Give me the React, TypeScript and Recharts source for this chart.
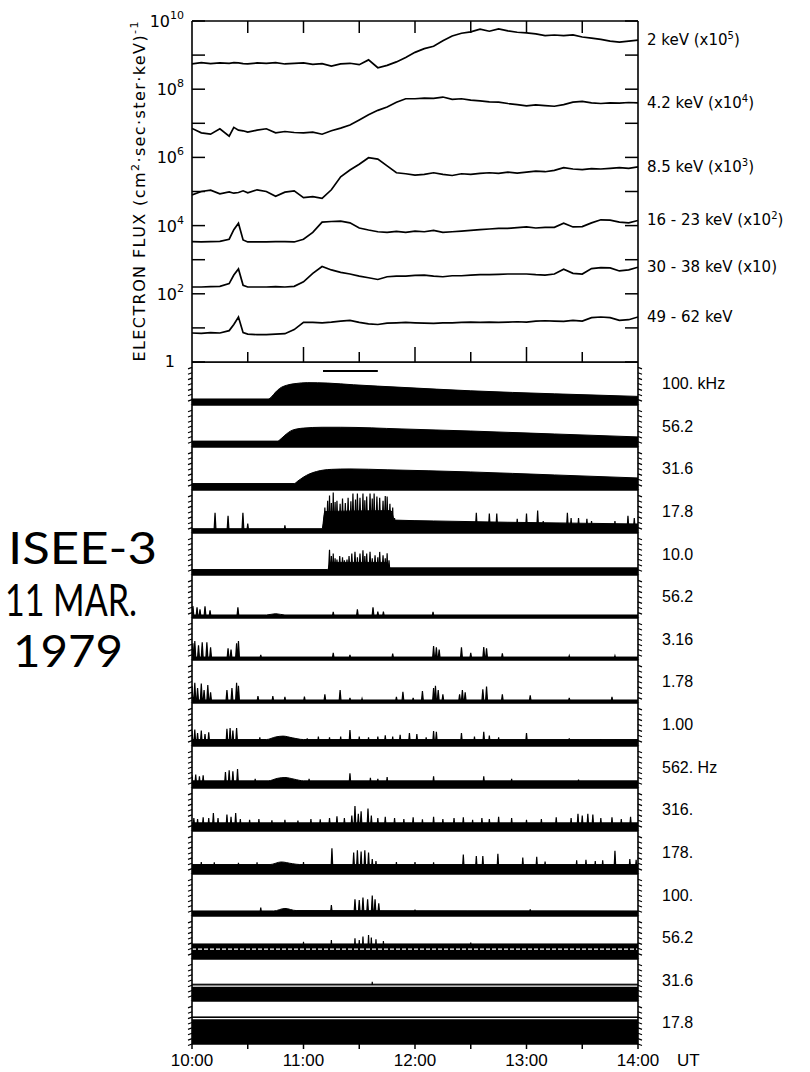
import React from 'react';
import { LineChart, Line, ComposedChart, Area, XAxis, YAxis, ReferenceLine, LabelList } from 'recharts';

// minutes after 10:00 UT
const times = [0, 5, 10, 15, 20, 22.5, 25, 27.5, 30, 35, 40, 45, 50, 55, 60, 65, 70, 75, 80, 85, 90, 95, 100, 105, 110, 115, 120, 125, 130, 135, 140, 145, 150, 155, 160, 165, 170, 175, 180, 185, 190, 195, 200, 205, 210, 215, 220, 225, 230, 235, 240];

// log10 of plotted electron flux (already multiplied by the band factor)
const flux2keV = [8.74, 8.78, 8.75, 8.77, 8.76, 8.78, 8.77, 8.75, 8.74, 8.77, 8.76, 8.78, 8.74, 8.76, 8.77, 8.73, 8.75, 8.68, 8.74, 8.76, 8.72, 8.86, 8.63, 8.70, 8.80, 8.93, 9.08, 9.19, 9.26, 9.42, 9.56, 9.64, 9.68, 9.76, 9.70, 9.77, 9.71, 9.67, 9.65, 9.62, 9.57, 9.59, 9.57, 9.59, 9.53, 9.50, 9.46, 9.41, 9.38, 9.41, 9.44];
const flux4keV = [6.85, 6.72, 6.68, 6.84, 6.62, 6.88, 6.80, 6.78, 6.74, 6.80, 6.84, 6.72, 6.76, 6.73, 6.72, 6.74, 6.68, 6.78, 6.86, 6.95, 7.10, 7.25, 7.38, 7.48, 7.62, 7.72, 7.72, 7.74, 7.73, 7.77, 7.70, 7.72, 7.68, 7.66, 7.63, 7.62, 7.58, 7.55, 7.51, 7.54, 7.52, 7.50, 7.55, 7.62, 7.64, 7.60, 7.58, 7.60, 7.59, 7.61, 7.60];
const flux8keV = [4.90, 5.00, 5.04, 4.93, 4.99, 4.95, 4.97, 5.02, 4.96, 5.05, 5.00, 4.86, 4.98, 5.02, 4.82, 4.85, 4.80, 5.05, 5.43, 5.63, 5.80, 5.99, 5.95, 5.75, 5.55, 5.52, 5.48, 5.50, 5.55, 5.50, 5.47, 5.52, 5.50, 5.53, 5.55, 5.53, 5.57, 5.54, 5.57, 5.60, 5.58, 5.62, 5.70, 5.66, 5.64, 5.67, 5.66, 5.68, 5.70, 5.68, 5.72];
const flux16keV = [3.53, 3.52, 3.53, 3.54, 3.60, 3.88, 4.07, 3.58, 3.52, 3.52, 3.52, 3.53, 3.53, 3.52, 3.60, 3.80, 4.10, 4.12, 4.13, 4.08, 3.93, 3.87, 3.82, 3.80, 3.83, 3.80, 3.84, 3.82, 3.86, 3.80, 3.82, 3.84, 3.86, 3.88, 3.90, 3.92, 3.92, 3.94, 3.96, 3.93, 3.95, 3.95, 4.07, 3.96, 3.97, 4.08, 4.17, 4.16, 4.10, 4.08, 4.15];
const flux30keV = [2.20, 2.20, 2.21, 2.22, 2.30, 2.55, 2.73, 2.25, 2.20, 2.20, 2.20, 2.21, 2.20, 2.22, 2.35, 2.60, 2.80, 2.70, 2.63, 2.58, 2.52, 2.47, 2.42, 2.50, 2.52, 2.52, 2.54, 2.55, 2.52, 2.50, 2.53, 2.53, 2.55, 2.56, 2.56, 2.57, 2.58, 2.58, 2.58, 2.56, 2.55, 2.58, 2.72, 2.60, 2.58, 2.74, 2.77, 2.76, 2.67, 2.70, 2.78];
const flux49keV = [0.85, 0.84, 0.86, 0.85, 0.92, 1.10, 1.32, 0.86, 0.82, 0.80, 0.80, 0.82, 0.83, 0.95, 1.16, 1.16, 1.15, 1.17, 1.20, 1.22, 1.16, 1.12, 1.10, 1.14, 1.15, 1.16, 1.15, 1.14, 1.13, 1.15, 1.15, 1.16, 1.17, 1.16, 1.17, 1.16, 1.17, 1.18, 1.17, 1.20, 1.21, 1.20, 1.19, 1.22, 1.20, 1.30, 1.32, 1.30, 1.22, 1.24, 1.32];

const bandNames = ['2 keV', '4.2 keV', '8.5 keV', '16 - 23 keV', '30 - 38 keV', '49 - 62 keV'];
const bandFactorExp = [5, 4, 3, 2, 1, 0];
const fluxTicks = [1, 1e1, 1e2, 1e3, 1e4, 1e5, 1e6, 1e7, 1e8, 1e9, 1e10];
const timeTicks = [0, 30, 60, 90, 120, 150, 180, 210, 240];
const hourLabels = ['10:00', '11:00', '12:00', '13:00', '14:00'];
const burstInterval = [70.5, 100];

const freqLabels = ['100. kHz', '56.2', '31.6', '17.8', '10.0', '56.2', '3.16', '1.78', '1.00', '562. Hz', '316.', '178.', '100.', '56.2', '31.6', '17.8'];

// receiver channels: envelope [t, level] and spikes [t, height], level 0..1 of strip height
const env100k = [[0, 0.14], [41, 0.14], [43, 0.2], [45, 0.3], [47, 0.38], [51, 0.46], [56, 0.5], [62, 0.52], [73, 0.51], [87, 0.47], [113, 0.41], [150, 0.33], [195, 0.26], [240, 0.2]];
const env56k = [[0, 0.14], [46, 0.14], [48, 0.2], [50, 0.28], [54, 0.4], [60, 0.45], [70, 0.47], [80, 0.47], [113, 0.43], [150, 0.38], [195, 0.31], [240, 0.24]];
const env31k = [[0, 0.15], [55, 0.15], [57, 0.21], [60, 0.3], [63, 0.37], [67, 0.43], [75, 0.48], [85, 0.49], [105, 0.47], [150, 0.42], [195, 0.35], [240, 0.28]];
const env17k = [[0, 0.1], [70, 0.1], [71.5, 0.5], [107, 0.52], [109, 0.3], [130, 0.28], [170, 0.25], [240, 0.21]];
const spikes17k = [[12.4, 0.47], [19.4, 0.4], [27.4, 0.47], [30, 0.22], [50, 0.18],
  [71.5, 0.59], [73, 0.75], [74, 0.87], [75, 0.7], [76, 0.94], [77, 0.72], [78, 0.75], [79.7, 0.68], [81, 0.8], [82.5, 0.7], [84, 0.82], [85.5, 0.74], [86.6, 0.92], [88, 0.78], [89, 0.92], [90.4, 0.82], [92, 0.92], [93, 0.76], [94, 0.85], [95.8, 0.92], [97, 0.8], [98, 0.92], [99.5, 0.85], [101, 0.82], [102.8, 0.75], [104, 0.86], [105, 0.85], [106.5, 0.68], [108, 0.59], [109, 0.35],
  [153, 0.47], [160, 0.45], [164, 0.45], [175, 0.33], [180, 0.45], [186, 0.52], [189, 0.28], [202, 0.47], [204, 0.35], [208, 0.35], [212.5, 0.33], [215, 0.28], [227.6, 0.28], [234.6, 0.4], [238, 0.35]];
const env10k = [[0, 0.13], [73, 0.13], [74.5, 0.3], [105, 0.3], [106.5, 0.17], [240, 0.17]];
const spikes10k = [[74, 0.6], [75, 0.45], [76, 0.51], [77, 0.4], [78, 0.37], [79.5, 0.45], [81, 0.42], [82, 0.35], [83.4, 0.37], [84.5, 0.45], [86, 0.51], [87.7, 0.55], [89, 0.42], [90.4, 0.51], [92, 0.59], [93, 0.45], [94, 0.51], [95.8, 0.55], [97, 0.4], [98.5, 0.47], [100, 0.42], [101, 0.55], [102.8, 0.47], [104, 0.4], [105, 0.52], [106, 0.35]];
const env5k = [[0, 0.07], [40, 0.07], [45, 0.1], [50, 0.07], [240, 0.07]];
const spikes5k = [[0.5, 0.28], [2.7, 0.25], [4.3, 0.2], [7, 0.27], [9.7, 0.18], [24.7, 0.25], [76, 0.14], [89, 0.2], [97.4, 0.25], [100, 0.15], [103, 0.15], [129.7, 0.14]];
const env3k = [[0, 0.07], [240, 0.07]];
const spikes3k = [[0.5, 0.4], [1.5, 0.45], [3.5, 0.35], [5.5, 0.42], [8, 0.42], [10, 0.3], [19.4, 0.28], [21, 0.25], [24, 0.4], [25, 0.45], [37, 0.12], [76, 0.17], [85, 0.12], [108, 0.15], [130, 0.33], [131.5, 0.3], [133, 0.25], [145, 0.3], [150, 0.17], [157, 0.31], [158.5, 0.28], [167, 0.16], [203, 0.1], [227.6, 0.1]];
const env1_8k = [[0, 0.07], [240, 0.07]];
const spikes1_8k = [[0, 0.4], [1.5, 0.47], [3, 0.35], [5, 0.45], [6.5, 0.3], [8.5, 0.42], [10, 0.25], [18.8, 0.3], [21.5, 0.35], [24, 0.47], [25, 0.4], [35.5, 0.16], [43.5, 0.16], [50, 0.14], [60.5, 0.15], [71.5, 0.2], [79.7, 0.3], [85, 0.12], [91.5, 0.1], [110, 0.14], [113.5, 0.26], [119, 0.12], [124, 0.28], [130, 0.35], [131, 0.4], [132.5, 0.3], [135, 0.2], [144, 0.2], [145.5, 0.3], [147, 0.25], [156.5, 0.32], [158.5, 0.38], [167, 0.2], [182, 0.18], [203, 0.12], [226, 0.14]];
const env1k = [[0, 0.15], [40, 0.15], [45, 0.21], [49, 0.23], [54, 0.19], [60, 0.15], [240, 0.15]];
const spikes1k = [[0, 0.35], [1.5, 0.38], [3, 0.3], [5, 0.36], [7, 0.28], [9, 0.32], [18.8, 0.4], [20.5, 0.42], [22, 0.36], [24, 0.42], [36.5, 0.2], [62, 0.18], [68, 0.22], [74, 0.2], [80, 0.22], [85, 0.37], [90, 0.22], [95, 0.2], [100, 0.22], [104, 0.25], [108, 0.22], [112, 0.26], [117, 0.3], [121, 0.28], [126, 0.2], [130, 0.35], [131.5, 0.33], [145, 0.3], [152, 0.22], [157, 0.33], [160, 0.24], [165, 0.2], [180, 0.3], [203, 0.18], [220, 0.16], [228, 0.14]];
const env562 = [[0, 0.17], [41, 0.17], [46, 0.23], [50, 0.25], [55, 0.21], [60, 0.17], [240, 0.17]];
const spikes562 = [[0, 0.3], [2, 0.32], [4, 0.28], [6, 0.3], [18, 0.38], [20, 0.42], [22, 0.4], [24.5, 0.45], [34, 0.22], [63, 0.22], [85, 0.35], [96, 0.24], [100, 0.22], [105, 0.26], [130, 0.28], [157, 0.28], [172, 0.22], [208, 0.2]];
const env316 = [[0, 0.19], [240, 0.19]];
const spikes316 = [[1, 0.3], [3, 0.28], [6, 0.32], [9, 0.3], [11.5, 0.42], [14, 0.3], [18.8, 0.38], [21, 0.33], [23.5, 0.42], [26, 0.28], [31, 0.26], [36, 0.28], [43, 0.25], [50, 0.26], [57, 0.24], [64, 0.28], [69, 0.27], [74, 0.3], [78, 0.34], [82, 0.3], [86, 0.36], [87.7, 0.58], [89.5, 0.4], [91, 0.46], [94.7, 0.52], [96.5, 0.36], [100, 0.3], [104, 0.33], [109, 0.3], [114, 0.28], [119, 0.32], [124, 0.27], [130, 0.33], [135, 0.28], [141, 0.3], [146, 0.32], [151, 0.26], [156, 0.3], [160, 0.28], [165, 0.33], [172, 0.3], [180, 0.26], [188, 0.28], [196, 0.32], [204, 0.3], [207.7, 0.4], [210, 0.36], [213, 0.4], [215.7, 0.38], [220, 0.3], [226, 0.32], [231, 0.28], [236, 0.33]];
const env178 = [[0, 0.22], [42, 0.22], [48, 0.28], [54, 0.24], [58, 0.22], [240, 0.22]];
const spikes178 = [[5, 0.28], [12, 0.27], [25, 0.26], [35, 0.27], [60, 0.28], [75.3, 0.6], [87, 0.5], [89, 0.55], [91, 0.52], [93, 0.55], [95, 0.5], [97, 0.35], [99, 0.3], [110, 0.28], [120, 0.28], [130, 0.27], [146, 0.45], [153, 0.42], [156.5, 0.42], [164.6, 0.47], [178, 0.38], [185.5, 0.4], [190, 0.29], [207, 0.32], [212, 0.33], [217, 0.3], [221, 0.32], [227.6, 0.54], [235.6, 0.35], [239, 0.33]];
const env100 = [[0, 0.12], [44, 0.12], [50, 0.18], [56, 0.13], [240, 0.12]];
const spikes100 = [[37, 0.2], [75, 0.26], [87.7, 0.4], [90, 0.38], [92, 0.44], [94.5, 0.4], [97, 0.49], [98.5, 0.4], [100.5, 0.3], [120, 0.15], [182, 0.16]];
const env56 = [[0, 0.35], [240, 0.35]];
const spikes56 = [[60, 0.4], [75, 0.44], [87.7, 0.48], [90, 0.44], [92, 0.52], [95, 0.56], [96.5, 0.5], [99, 0.46], [103, 0.42], [150, 0.38]];
const env31 = [[0, 0.4], [240, 0.4]];
const spikes31 = [[97, 0.46]];
const env17 = [[0, 0.63], [240, 0.63]];

const strips = [
  { env: env100k, spikes: [] },
  { env: env56k, spikes: [] },
  { env: env31k, spikes: [] },
  { env: env17k, spikes: spikes17k },
  { env: env10k, spikes: spikes10k },
  { env: env5k, spikes: spikes5k },
  { env: env3k, spikes: spikes3k },
  { env: env1_8k, spikes: spikes1_8k },
  { env: env1k, spikes: spikes1k },
  { env: env562, spikes: spikes562 },
  { env: env316, spikes: spikes316 },
  { env: env178, spikes: spikes178 },
  { env: env100, spikes: spikes100 },
  { env: env56, spikes: spikes56, white: 0.23, dash: '4 2' },
  { env: env31, spikes: spikes31, white: 0.355 },
  { env: env17, spikes: [], white: 0.59 },
];

const fluxSeries = [flux2keV, flux4keV, flux8keV, flux16keV, flux30keV, flux49keV];
const fluxRows = times.map((t, i) => {
  const row: any = { t };
  fluxSeries.forEach((s, j) => { row['b' + j] = Math.pow(10, s[i]); });
  return row;
});

const SANS = 'Liberation Sans, Arial, sans-serif';
const LETTER = 'DejaVu Sans, sans-serif';
const axisStroke = { stroke: '#000', strokeWidth: 1.6 };

const stripTop = (k: number) => Math.round(362 + k * 42.625);

function buildRows(env: number[][], spikes: number[][]) {
  const rows: any[] = env.map(([t, v]) => ({ t, env: v }));
  spikes.forEach(([t, h]) => {
    rows.push({ t: t - 0.6, spk: 0 }, { t, spk: h }, { t: t + 0.6, spk: 0 });
  });
  rows.sort((a, b) => a.t - b.t);
  return rows;
}

const LeftFluxTick = ({ x, y, payload }: any) => {
  const n = Math.round(Math.log10(payload.value));
  return (
    <g>
      <line x1={x} y1={y} x2={x + 13} y2={y} stroke="#000" strokeWidth={1.5} />
      {n % 2 === 0 && (n === 0 ? (
        <text x={x - 17} y={y + 5} textAnchor="end" fontSize={16} fontFamily={LETTER} fill="#000">1</text>
      ) : (
        <text x={x - 8} y={y + 6} textAnchor="end" fontSize={16} fontFamily={LETTER} fill="#000">
          10<tspan dy={-8} fontSize={11}>{n}</tspan>
        </text>
      ))}
    </g>
  );
};
const RightFluxTick = ({ x, y }: any) => <line x1={x} y1={y} x2={x - 13} y2={y} stroke="#000" strokeWidth={1.5} />;
const BottomFluxTick = ({ x, y, payload }: any) =>
  payload.value === 0 || payload.value === 240 ? <g /> :
    <line x1={x} y1={y} x2={x} y2={y - (payload.value % 60 === 0 ? 15 : 10)} stroke="#000" strokeWidth={1.5} />;
const TopFluxTick = ({ x, y, payload }: any) =>
  payload.value === 0 || payload.value === 240 ? <g /> :
    <line x1={x} y1={y} x2={x} y2={y + 12} stroke="#000" strokeWidth={1.5} />;

const StripTickL = ({ x, y }: any) => <line x1={x} y1={y} x2={x - 4} y2={y + 1.5} stroke="#000" strokeWidth={1.2} />;
const StripTickR = ({ x, y }: any) => <line x1={x} y1={y} x2={x + 4} y2={y + 1.5} stroke="#000" strokeWidth={1.2} />;
const TimeTick = ({ x, y, payload }: any) => (
  <g>
    <line x1={x} y1={y} x2={x} y2={y + 5} stroke="#000" strokeWidth={1.5} />
    {payload.value % 60 === 0 && (
      <text x={x} y={y + 22} textAnchor="middle" fontSize={17} fontFamily={SANS} fill="#000">{hourLabels[payload.value / 60]}</text>
    )}
    {payload.value === 240 && <text x={x + 39} y={y + 22} fontSize={17} fontFamily={SANS} fill="#000">UT</text>}
  </g>
);

function bandLabel(j: number) {
  return (props: any) => {
    if (props.index !== times.length - 1) return null;
    const vb = props.viewBox || {};
    const x = (vb.x ?? props.x) + 9;
    const y = (vb.y ?? props.y) + 5;
    const e = bandFactorExp[j];
    return (
      <text x={x} y={y} fontSize={15} fontFamily={LETTER} fill="#000">
        {bandNames[j]}
        {e > 1 && <>{' (x10'}<tspan dy={-6} fontSize={10}>{e}</tspan><tspan dy={6}>)</tspan></>}
        {e === 1 && ' (x10)'}
      </text>
    );
  };
}

const FluxTitle = ({ viewBox }: any) => {
  const cx = viewBox.x - 46;
  const cy = viewBox.y + viewBox.height / 2;
  return (
    <text x={cx} y={cy} transform={`rotate(-90 ${cx} ${cy})`} textAnchor="middle" fontSize={16} fontFamily={LETTER} fill="#000" textLength={340} lengthAdjust="spacing">
      ELECTRON  FLUX (cm<tspan dy={-6} fontSize={11}>2</tspan><tspan dy={6}>·sec·ster·keV)</tspan><tspan dy={-7} fontSize={11}>-1</tspan>
    </text>
  );
};

function FluxPanel() {
  return (
    <LineChart width={810} height={380} data={fluxRows} margin={{ top: 20, right: 171, bottom: 17, left: 191 }}>
      <XAxis dataKey="t" type="number" domain={[0, 240]} ticks={timeTicks} interval={0} height={1} allowDataOverflow
        tickLine={false} tickSize={0} tickMargin={0} tick={BottomFluxTick} axisLine={axisStroke} />
      <XAxis xAxisId="top" orientation="top" dataKey="t" type="number" domain={[0, 240]} ticks={timeTicks} interval={0} height={1} allowDataOverflow
        tickLine={false} tickSize={0} tickMargin={0} tick={TopFluxTick} axisLine={axisStroke} />
      <YAxis type="number" scale="log" domain={[1, 1e10]} ticks={fluxTicks} interval={0} width={1} allowDataOverflow
        tickLine={false} tickSize={0} tickMargin={0} tick={LeftFluxTick} axisLine={axisStroke}
        label={{ content: FluxTitle }} />
      <YAxis yAxisId="r" orientation="right" type="number" scale="log" domain={[1, 1e10]} ticks={fluxTicks} interval={0} width={1} allowDataOverflow
        tickLine={false} tickSize={0} tickMargin={0} tick={RightFluxTick} axisLine={axisStroke} />
      {fluxSeries.map((_, j) => (
        <Line key={j} dataKey={'b' + j} type="linear" stroke="#000" strokeWidth={1.7} dot={false} activeDot={false} isAnimationActive={false}>
          <LabelList dataKey={'b' + j} content={bandLabel(j)} />
        </Line>
      ))}
    </LineChart>
  );
}

function Strip({ k }: { k: number }) {
  const top = stripTop(k);
  const h = stripTop(k + 1) - top;
  const last = k === strips.length - 1;
  const s: any = strips[k];
  const rows = buildRows(s.env, s.spikes);
  return (
    <div style={{ position: 'absolute', left: 0, top }}>
      <ComposedChart width={810} height={h + (last ? 30 : 0)} data={rows} margin={{ top: 0, right: 171, bottom: 0, left: 191 }}>
        <XAxis dataKey="t" type="number" domain={[0, 240]} ticks={timeTicks} interval={0} allowDataOverflow
          hide={!last} height={last ? 30 : 0} tickLine={false} tickSize={0} tickMargin={0} tick={TimeTick} axisLine={axisStroke} />
        <YAxis yAxisId="l" type="number" domain={[0, 1]} ticks={[0, 0.125, 0.25, 0.375, 0.5, 0.625, 0.75, 0.875]} interval={0} width={1} allowDataOverflow
          tickLine={false} tickSize={0} tickMargin={0} tick={StripTickL} axisLine={axisStroke} />
        <YAxis yAxisId="r" orientation="right" type="number" domain={[0, 1]} ticks={[0, 0.125, 0.25, 0.375, 0.5, 0.625, 0.75, 0.875]} interval={0} width={1} allowDataOverflow
          tickLine={false} tickSize={0} tickMargin={0} tick={StripTickR} axisLine={axisStroke}
          label={{ value: freqLabels[k], position: 'right', offset: 23, fill: '#000', fontSize: 16, fontFamily: SANS }} />
        <Area yAxisId="l" dataKey="env" type="monotone" connectNulls baseValue={0} fill="#000" fillOpacity={1} stroke="#000" strokeWidth={1} dot={false} activeDot={false} isAnimationActive={false} />
        {s.spikes.length > 0 && (
          <Area yAxisId="l" dataKey="spk" type="linear" connectNulls baseValue={0} fill="#000" fillOpacity={1} stroke="#000" strokeWidth={1.2} dot={false} activeDot={false} isAnimationActive={false} />
        )}
        {s.white !== undefined && (
          <ReferenceLine yAxisId="l" y={s.white} stroke="#fff" strokeWidth={1.3} strokeDasharray={s.dash} />
        )}
        <ReferenceLine yAxisId="l" y={1} stroke="#000" strokeWidth={1.3} />
        {k === 0 && (
          <ReferenceLine yAxisId="l" segment={[{ x: burstInterval[0], y: 0.79 }, { x: burstInterval[1], y: 0.79 }]} stroke="#000" strokeWidth={2} />
        )}
      </ComposedChart>
    </div>
  );
}

export default function App() {
  return (
    <div style={{ position: 'absolute', left: 0, top: 0, width: 810, height: 1072, background: '#fff', overflow: 'hidden' }}>
      <div style={{ position: 'absolute', left: 0, top: 0 }}>
        <FluxPanel />
      </div>
      {strips.map((_, k) => <Strip key={k} k={k} />)}
      <svg width={190} height={700} style={{ position: 'absolute', left: 0, top: 0 }}>
        <g fontFamily="Lato, DejaVu Sans, sans-serif" fontWeight={400} fontSize={44} fill="#000">
          <text x={8} y={564} textLength={149} lengthAdjust="spacingAndGlyphs">ISEE-3</text>
          <text x={5} y={616} textLength={132} lengthAdjust="spacingAndGlyphs">11 MAR.</text>
          <text x={13} y={667} textLength={110} lengthAdjust="spacingAndGlyphs">1979</text>
        </g>
      </svg>
    </div>
  );
}
